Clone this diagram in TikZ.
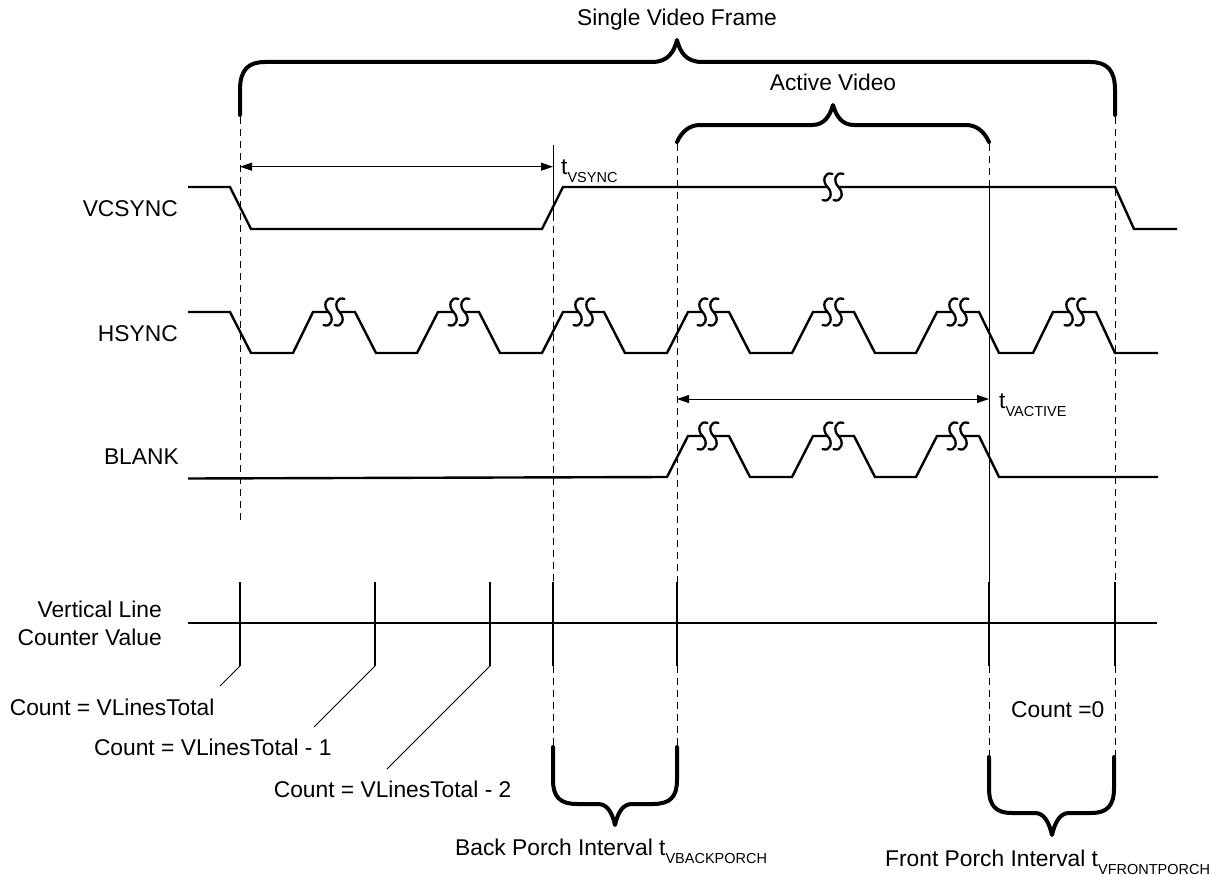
\documentclass[tikz,border=0pt]{standalone}
\usepackage{fontspec}
\setmainfont{Liberation Sans}
\usetikzlibrary{arrows.meta}
\newcommand\subs[1]{\raisebox{-8pt}{\fontsize{14.5}{14.5}\selectfont #1}}
\begin{document}
\begin{tikzpicture}[x=1pt,y=-1pt,
 wave/.style={line width=2.4pt},
 brace/.style={line width=4pt, line cap=round, line join=round},
 guide/.style={line width=1pt, dash pattern=on 7pt off 5pt},
 solidguide/.style={line width=1pt},
 tickline/.style={line width=2.4pt},
 leader/.style={line width=0.8pt},
 dim/.style={line width=1pt, {Triangle[length=12pt,width=8pt]}-{Triangle[length=12pt,width=8pt]}},
 lbl/.style={inner sep=0pt, font=\fontsize{22.8}{27}\selectfont},
 brkline/.style={line width=2.3pt, line cap=round}]
\useasboundingbox (0,0) rectangle (1227,875);
\newcommand\brk[2]{%
 \fill[white] (#1-6,#2-2.5) rectangle (#1+6,#2+2.5);
 \draw[brkline, shift={(#1-5.5,#2)}] (5,-13) .. controls (-3,-16) and (-6,-6) .. (0,0) .. controls (6,6) and (3,16) .. (-5,13);
 \draw[brkline, shift={(#1+5.5,#2)}] (5,-13) .. controls (-3,-16) and (-6,-6) .. (0,0) .. controls (6,6) and (3,16) .. (-5,13);}

% labels
\node[lbl, anchor=base] (svf) at (677,26) {Single Video Frame};
\node[lbl, anchor=base] (av) at (833,91) {Active Video};
\node[lbl, anchor=base east] (lvc) at (178,216) {VCSYNC};
\node[lbl, anchor=base east] (lhs) at (178,341.5) {HSYNC};
\node[lbl, anchor=base east] (lbl) at (179,464) {BLANK};
\node[lbl, anchor=base east] (lvl1) at (162,617.5) {Vertical Line};
\node[lbl, anchor=base east] (lvl2) at (162,645) {Counter Value};
\node[lbl, anchor=base west] (c0) at (9.6,715) {Count = VLinesTotal};
\node[lbl, anchor=base west] (c1) at (93.8,755) {Count = VLinesTotal - 1};
\node[lbl, anchor=base west] (c2) at (273.6,797.5) {Count = VLinesTotal - 2};
\node[lbl, anchor=base west] (cz) at (1011,717) {Count =0};
\node[lbl, anchor=base west] (tvs) at (561,174) {t\subs{VSYNC}};
\node[lbl, anchor=base west] (tva) at (999,408) {t\subs{VACTIVE}};
\node[lbl, anchor=base west] (bp) at (455,855) {Back Porch Interval t\subs{VBACKPORCH}};
\node[lbl, anchor=base west] (fp) at (885,866) {Front Porch Interval t\subs{VFRONTPORCH}};

% braces
\draw[brace] (240,115) -- (240,90) .. controls (240,70) and (248,62) .. (265,62) -- (652,62)
  .. controls (668,62) and (674,52) .. (677,40) .. controls (680,52) and (686,62) .. (702,62)
  -- (1090,62) .. controls (1107,62) and (1115,70) .. (1115,90) -- (1115,115);
\draw[brace] (677,142) .. controls (682,131) and (690,125) .. (700,125) -- (812,125)
  .. controls (825,125) and (830,115) .. (833,105) .. controls (836,115) and (841,125) .. (854,125)
  -- (966,125) .. controls (976,125) and (984,131) .. (989,142);
\draw[brace] (553,747) -- (553,780) .. controls (553,797) and (560,804) .. (577,804) -- (598,804)
  .. controls (607,804) and (612,812) .. (615,825) .. controls (618,812) and (623,804) .. (632,804)
  -- (653,804) .. controls (670,804) and (677,797) .. (677,780) -- (677,747);
\draw[brace] (989,757) -- (989,788) .. controls (989,806) and (996,813) .. (1012,813) -- (1035,813)
  .. controls (1044,813) and (1049,822) .. (1052,835) .. controls (1055,822) and (1060,813) .. (1069,813)
  -- (1091,813) .. controls (1107,813) and (1114,806) .. (1114,788) -- (1114,757);

% guides
\draw[guide] (240,117) -- (240,520);
\draw[solidguide] (553,145) -- (553,214);
\draw[guide] (553,214) -- (553,582);
\draw[guide] (553,666) -- (553,747);
\draw[guide] (677,144) -- (677,582);
\draw[guide] (677,666) -- (677,747);
\draw[guide] (989,144) -- (989,187);
\draw[solidguide] (989,187) -- (989,582);
\draw[guide] (989,666) -- (989,757);
\draw[guide] (1115,117) -- (1115,582);
\draw[guide] (1115,666) -- (1115,757);

% dimension arrows
\draw[dim] (240,166.7) -- (553,166.7);
\draw[dim] (677,399) -- (989,399);

% waveforms
\draw[wave] (188,187) -- (230,187) -- (251,229) -- (542,229) -- (563,187) -- (1115,187) -- (1134,229) -- (1177,229);
\draw[wave] (188,312) -- (230,312) -- (251,353) -- (293,353) -- (313,312) -- (355,312) -- (376,353) -- (417,353)
  -- (438,312) -- (479,312) -- (500,353) -- (542,353) -- (563,312) -- (604,312) -- (625,353) -- (667,353)
  -- (688,312) -- (729,312) -- (750,353) -- (792,353) -- (813,312) -- (854,312) -- (875,353) -- (916,353)
  -- (937,312) -- (979,312) -- (999,353) -- (1033,353) -- (1053,312) -- (1096,312) -- (1115,353) -- (1158,353);
\draw[wave] (188,478.5) -- (667,477) -- (688,436) -- (729,436) -- (750,477) -- (792,477) -- (813,436) -- (854,436)
  -- (875,477) -- (916,477) -- (937,436) -- (979,436) -- (999,477) -- (1158,477);

\brk{833}{187}
\foreach \x in {334,459,584,708,833,958,1075} {\brk{\x}{312}}
\foreach \x in {708,833,958} {\brk{\x}{436}}

% counter
\draw[tickline] (187.5,623) -- (1157,623);
\foreach \x in {240,375,490,553,677,989,1115} {\draw[tickline] (\x,582) -- (\x,666);}
\draw[leader] (240,666) -- (220,686);
\draw[leader] (375,666) -- (314,727);
\draw[leader] (490,666) -- (387,769);
\end{tikzpicture}
\end{document}
